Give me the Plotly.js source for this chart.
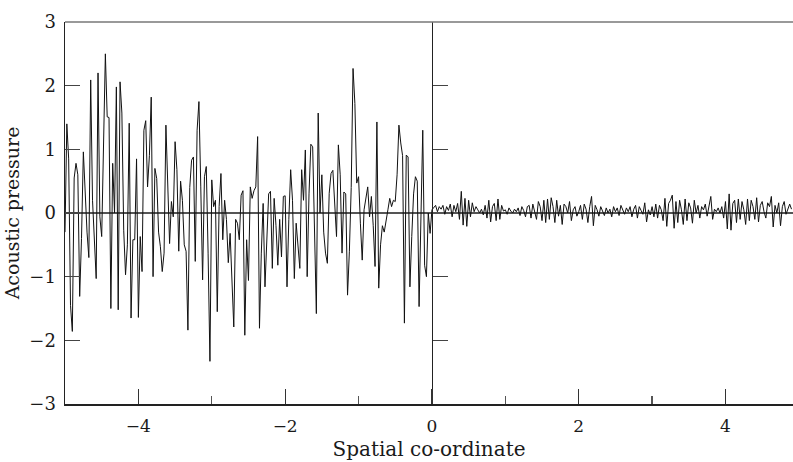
<!DOCTYPE html>
<html>
<head>
<meta charset="utf-8">
<script src="https://cdn.plot.ly/plotly-3.0.1.min.js"></script>
<style>
html,body{margin:0;padding:0;background:#fff;}
#chart{width:793px;height:462px;}
</style>
</head>
<body>
<div id="chart"></div>
<script>
// Spatial coordinate sampling (start and step)
const xStart = -5;
const xStep = 0.025;

// Acoustic pressure for x in [-5, 0] (incident field region)
const pressureLeft = [
-0.30, 1.40, 0.85, -1.45, -1.86, 0.55, 0.78, 0.60, -1.31, -0.40,
0.96, 0.30, -0.30, -0.70, 2.09, 0.20, -0.40, -1.03, 2.20, -0.06,
-0.37, 1.20, 2.50, 1.51, 1.50, -1.50, 0.78, 0.00, 1.98, -1.52,
2.06, 1.57, -0.27, -0.97, -0.50, 1.41, -1.65, -0.42, -0.42, 0.85,
-1.64, -0.37, -0.92, 1.30, 1.45, 0.41, 0.90, 1.82, -1.00, 0.70,
0.54, -0.30, -0.53, -0.92, -0.63, 1.38, 0.50, -0.48, 0.18, -0.06,
1.12, 0.68, -0.60, 0.50, 0.20, -0.50, -0.60, -1.84, 0.40, 0.83,
0.88, -0.76, 1.30, 1.75, 0.41, -1.05, 0.57, 0.73, -0.63, -2.33,
0.52, 0.10, 0.20, -1.55, 0.10, 0.62, -0.42, 0.20, -0.10, -0.78,
-0.32, -1.00, -1.79, -0.10, -0.16, -0.42, 0.28, 0.35, -1.92, -0.42,
-1.06, 0.41, 0.23, 0.35, 0.41, 1.20, -1.81, -0.63, 0.15, -1.16,
-0.40, 0.30, 0.34, -0.87, 0.23, -0.20, -0.82, -0.10, -0.69, 0.26,
0.27, -1.16, -0.10, 0.68, 0.20, -1.03, -0.16, -0.60, -0.87, 0.68,
0.20, 0.99, -1.00, 0.30, 1.08, 1.04, -0.58, -1.58, 1.57, 0.00,
0.60, -0.30, -0.63, -0.79, 0.31, 0.62, 0.67, 0.10, -0.37, 1.07,
0.60, -0.63, 0.33, 0.30, -1.29, -0.60, 0.40, 2.27, 1.72, 0.47,
0.57, -0.16, -0.74, 0.05, 0.20, 0.41, -0.06, 0.26, -0.20, -0.84,
1.43, -1.18, -0.50, -0.20, -0.30, -0.15, 0.05, 0.23, 0.10, 0.20,
0.18, 0.60, 1.38, 1.10, 0.90, -1.73, 0.91, 0.88, -1.16, -0.37,
0.30, 0.57, 0.50, -1.47, 0.20, 1.30, -0.82, -1.00, 0.00, -0.32,
0.05
];

// Acoustic pressure for x in (0, 4.9] (transmitted field region)
const pressureRight = [
0.08, 0.12, 0.02, 0.10, 0.06, 0.12, -0.02, 0.10, 0.04, 0.14,
-0.06, 0.12, 0.02, 0.15, -0.10, 0.34, -0.19, 0.23, -0.21, 0.20,
-0.06, 0.16, 0.02, 0.10, 0.05, 0.00, 0.06, -0.03, 0.12, -0.08,
0.20, -0.14, 0.10, 0.15, -0.12, 0.22, -0.10, 0.12, 0.03, 0.05,
-0.02, 0.08, 0.03, 0.00, 0.06, 0.02, 0.08, -0.04, 0.10, 0.04,
-0.06, 0.10, 0.12, -0.08, 0.14, 0.02, -0.10, 0.18, 0.10, -0.12,
0.20, -0.15, 0.22, -0.10, 0.24, 0.10, -0.15, 0.20, -0.05, 0.12,
-0.18, 0.14, 0.10, 0.00, 0.18, -0.12, 0.05, 0.10, -0.05, 0.02,
0.12, -0.10, 0.14, 0.06, -0.15, 0.10, 0.26, -0.20, 0.12, 0.05,
-0.05, 0.10, 0.04, -0.04, 0.08, 0.00, 0.06, -0.06, 0.10, 0.02,
0.08, -0.04, 0.12, 0.05, -0.02, 0.08, 0.02, 0.10, -0.06, 0.06,
0.12, -0.08, 0.10, 0.04, -0.02, 0.16, -0.14, 0.05, -0.03, 0.10,
-0.06, 0.14, -0.08, 0.12, 0.05, -0.12, 0.23, -0.21, 0.15, 0.20,
0.28, -0.24, 0.18, -0.15, 0.20, 0.05, -0.18, 0.22, -0.12, 0.16,
0.08, -0.16, 0.20, 0.00, 0.12, -0.08, 0.10, 0.05, 0.14, -0.05,
0.08, 0.26, -0.10, 0.06, 0.02, 0.08, 0.00, 0.10, -0.08, 0.18,
-0.25, 0.30, -0.27, 0.15, 0.20, -0.15, 0.22, -0.10, 0.18, 0.05,
-0.18, 0.22, -0.12, 0.20, 0.10, -0.10, 0.24, -0.14, 0.12, 0.18,
0.02, -0.08, 0.16, 0.10, 0.26, -0.22, 0.12, 0.00, 0.16, -0.20,
0.10, 0.18, -0.02, 0.08, 0.14, 0.06
];

const xTitle = 'Spatial co-ordinate';
const yTitle = 'Acoustic pressure';
const xRange = [-5, 4.92];
const yRange = [-3, 3];
const innerTicksY = [-2, -1, 1, 2];

const pressure = pressureLeft.concat(pressureRight);
const serif = 'DejaVu Serif, Liberation Serif, serif';

const traces = [
  {
    type: 'scatter', mode: 'lines',
    x0: xStart, dx: xStep, y: pressure,
    line: {color: '#111', width: 1},
    hoverinfo: 'skip', showlegend: false
  },
  {
    type: 'scatter', mode: 'lines', x: [], y: [], yaxis: 'y2',
    showlegend: false, hoverinfo: 'skip'
  }
];

const layout = {
  width: 793, height: 462,
  margin: {l: 65, r: 0, t: 22, b: 58},
  paper_bgcolor: '#fff', plot_bgcolor: '#fff',
  showlegend: false,
  xaxis: {
    range: xRange, tick0: 0, dtick: 2,
    ticks: 'inside', ticklen: 15, tickwidth: 1.2, tickcolor: '#333',
    showline: true, linecolor: '#222', linewidth: 1.5,
    showgrid: false, zeroline: false,
    minor: {tick0: 0, dtick: 1, ticks: 'inside', ticklen: 8, tickwidth: 1.2, tickcolor: '#555', showgrid: false},
    tickfont: {family: serif, size: 17, color: '#1a1a1a'},
    ticklabelstandoff: 6,
    title: {text: xTitle, font: {family: serif, size: 20, color: '#1a1a1a'}, standoff: 7}
  },
  yaxis: {
    range: yRange, dtick: 1,
    ticks: 'inside', ticklen: 15, tickwidth: 1.2, tickcolor: '#444',
    showline: true, linecolor: '#222', linewidth: 1.5,
    showgrid: false,
    zeroline: true, zerolinecolor: '#555', zerolinewidth: 1.3,
    tickfont: {family: serif, size: 18, color: '#1a1a1a'},
    ticklabelstandoff: 4,
    title: {text: yTitle, font: {family: serif, size: 19, color: '#1a1a1a'}, standoff: 4}
  },
  yaxis2: {
    overlaying: 'y', anchor: 'free',
    position: (0 - xRange[0]) / (xRange[1] - xRange[0]),
    side: 'right', range: yRange,
    tickvals: innerTicksY, ticks: 'outside', ticklen: 15, tickwidth: 1.2, tickcolor: '#444',
    showticklabels: false, showline: true, linecolor: '#222', linewidth: 1.5,
    showgrid: false, zeroline: false
  },
  shapes: [
    {type: 'line', xref: 'paper', yref: 'paper', x0: 0, x1: 1, y0: 1, y1: 1,
     line: {color: '#777', width: 1.5}}
  ]
};

Plotly.newPlot('chart', traces, layout, {staticPlot: true, displayModeBar: false});
</script>
</body>
</html>
